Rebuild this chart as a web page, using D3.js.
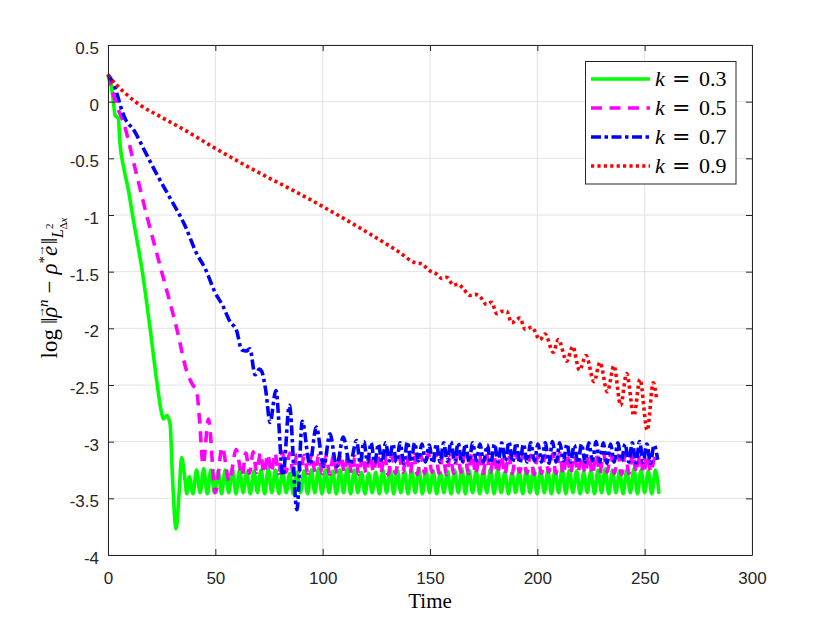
<!DOCTYPE html>
<html>
<head>
<meta charset="utf-8">
<script src="https://cdn.jsdelivr.net/npm/d3@7"></script>
<style>
body{margin:0;background:#fff}
</style>
</head>
<body>
<div></div>
<script>
// values
const kLabels = ["0.3", "0.5", "0.7", "0.9"]
const xTicks = [0, 50, 100, 150, 200, 250, 300]
const yTicks = [0.5, 0, -0.5, -1, -1.5, -2, -2.5, -3, -3.5, -4]

// decay part of each curve, [time, log error]
const head03 = [[0,0.23],[1.7,0.12],[2.5,0],[3.3,-0.12],[4.8,-0.15],[5.6,-0.37],[7.5,-0.6],[9.5,-0.78],[11.8,-1.04],[16,-1.5],[19.6,-2],[22.4,-2.42],
  [25,-2.75],[25.8,-2.8],[27.3,-2.77],[28.9,-2.84],[30.1,-3.34],[31.7,-3.77],[33.2,-3.43],[34.3,-3.14],[35.9,-3.34],[36.7,-3.46]]
const head05 = [[0,0.24],[2,0.1],[4,-0.03],[7.5,-0.2],[12.5,-0.58],[18,-1],[25,-1.5],[32,-2],[36.7,-2.38],[39.5,-2.5],[41.3,-2.55],[42.6,-2.8],
  [44.3,-3.2],[46.8,-2.8],[50,-3.45],[53.2,-3.05],[56.5,-3.35],[59.7,-3.07],[62.5,-3.3]]
const head07 = [[0,0.24],[2,0.18],[4.5,0.05],[6,-0.05],[8,-0.15],[12,-0.25],[17.5,-0.45],[23,-0.65],[28,-0.82],[36,-1.1],[41.3,-1.34],[45.2,-1.47],
  [49.8,-1.68],[53.7,-1.81],[56.8,-1.94],[59.9,-2.02],[62.3,-2.19],[64.5,-2.2],[66.1,-2.18],[68.5,-2.41],[70.5,-2.36],[71.6,-2.38],[73.5,-2.55],
  [75.5,-2.83],[78.2,-2.55],[81.5,-3.3],[84.5,-2.68],[88,-3.6],[90.5,-2.82],[94,-3.2],[97,-2.87],[100.5,-3.22],[103.4,-2.93],[106.5,-3.22],
  [109.6,-2.96],[112.7,-3.2],[115.8,-2.99]]
const head09 = [[0,0.235],[3.3,0.16],[7.1,0.09],[14.9,-0.03],[24.2,-0.13],[36.6,-0.26],[49.8,-0.41],[67.7,-0.6],[89.4,-0.815],[99.5,-0.92],
  [120.5,-1.15],[135,-1.32],[143,-1.42],[146,-1.43],[149.7,-1.49],[153,-1.52],[155.5,-1.56],[157.8,-1.55],[161,-1.62],[163,-1.61],[165.5,-1.65],
  [168.6,-1.71],[171,-1.7],[173.3,-1.72],[176.4,-1.79],[178.7,-1.77],[181.1,-1.87],[183.5,-1.85],[185.7,-1.85],[188,-1.95],[191.9,-1.91],
  [194.3,-2.01],[197.4,-1.99],[201.2,-2.1],[203.6,-2.05],[207.4,-2.21],[209.8,-2.1],[213.7,-2.29],[216.5,-2.16],[219.6,-2.37],[222.7,-2.24],
  [226.4,-2.47],[229.2,-2.3],[232.6,-2.56],[235.7,-2.33],[238.8,-2.68],[241.6,-2.4],[245,-2.77],[247.8,-2.45],[251.2,-2.9],[254,-2.48],[255.6,-2.63]]

// oscillating tails: alternating peaks and troughs, sampled every half period
const tail03Start = 37.9, tail03Step = 1.67
const tail03 = [
  -3.31,-3.46,-3.25,-3.45,-3.24,-3.46,-3.25,-3.45,-3.26,-3.46,-3.25,-3.45,-3.24,-3.46,-3.25,-3.45,-3.27,-3.46,-3.26,-3.45,
  -3.25,-3.46,-3.24,-3.45,-3.25,-3.46,-3.26,-3.45,-3.28,-3.46,-3.27,-3.45,-3.26,-3.46,-3.25,-3.45,-3.24,-3.46,-3.25,-3.45,
  -3.26,-3.46,-3.25,-3.45,-3.24,-3.46,-3.25,-3.45,-3.27,-3.46,-3.28,-3.45,-3.27,-3.46,-3.25,-3.45,-3.24,-3.46,-3.25,-3.45,
  -3.26,-3.46,-3.25,-3.45,-3.24,-3.46,-3.25,-3.45,-3.26,-3.46,-3.27,-3.45,-3.26,-3.46,-3.25,-3.45,-3.24,-3.46,-3.25,-3.45,
  -3.26,-3.46,-3.25,-3.45,-3.24,-3.46,-3.25,-3.45,-3.27,-3.46,-3.28,-3.45,-3.26,-3.46,-3.25,-3.45,-3.24,-3.46,-3.25,-3.45,
  -3.26,-3.46,-3.25,-3.45,-3.24,-3.46,-3.25,-3.45,-3.26,-3.46,-3.27,-3.45,-3.26,-3.46,-3.25,-3.45,-3.24,-3.46,-3.25,-3.45,
  -3.26,-3.46,-3.25,-3.45,-3.24,-3.46,-3.25,-3.45,-3.26,-3.46,-3.25,-3.46]
const tail05Start = 64.2, tail05Step = 1.7
const tail05 = [
  -3.10,-3.28,-3.09,-3.27,-3.10,-3.28,-3.11,-3.27,-3.10,-3.28,-3.09,-3.27,-3.10,-3.28,-3.11,-3.27,-3.12,-3.28,-3.11,-3.27,
  -3.12,-3.28,-3.13,-3.29,-3.12,-3.28,-3.11,-3.27,-3.12,-3.28,-3.13,-3.29,-3.12,-3.28,-3.11,-3.27,-3.10,-3.28,-3.11,-3.29,
  -3.12,-3.28,-3.13,-3.27,-3.12,-3.28,-3.11,-3.29,-3.12,-3.28,-3.10,-3.27,-3.11,-3.28,-3.12,-3.29,-3.13,-3.28,-3.12,-3.27,
  -3.11,-3.28,-3.10,-3.29,-3.11,-3.28,-3.12,-3.27,-3.13,-3.28,-3.12,-3.29,-3.11,-3.28,-3.10,-3.27,-3.11,-3.28,-3.12,-3.29,
  -3.13,-3.28,-3.12,-3.27,-3.11,-3.28,-3.10,-3.29,-3.11,-3.28,-3.12,-3.27,-3.13,-3.28,-3.12,-3.29,-3.11,-3.28,-3.10,-3.27,
  -3.11,-3.28,-3.12,-3.29,-3.11,-3.28,-3.10,-3.27,-3.11,-3.28,-3.12,-3.27,-3.15,-3.22]
const tail07Start = 117.5, tail07Step = 1.69
const tail07 = [
  -3.19,-3.00,-3.18,-3.01,-3.19,-3.02,-3.18,-3.01,-3.17,-3.02,-3.18,-3.01,-3.19,-3.00,-3.18,-3.01,-3.17,-3.02,-3.18,-3.03,
  -3.19,-3.02,-3.18,-3.01,-3.17,-3.00,-3.18,-3.01,-3.19,-3.02,-3.18,-3.01,-3.17,-3.02,-3.18,-3.03,-3.19,-3.02,-3.18,-3.01,
  -3.17,-3.00,-3.18,-3.01,-3.19,-3.02,-3.18,-3.01,-3.17,-3.02,-3.18,-3.01,-3.19,-3.00,-3.18,-3.01,-3.17,-3.02,-3.18,-3.03,
  -3.19,-3.02,-3.18,-3.01,-3.17,-3.00,-3.18,-3.01,-3.19,-3.02,-3.18,-3.01,-3.17,-3.02,-3.18,-3.01,-3.19,-3.00,-3.18,-3.02,
  -3.19,-3.03,-3.16]

function withTail(head, tail, start, step){
    return head.concat(tail.map((v, i) => [start + i*step, v]))
}
const curves = [
    withTail(head03, tail03, tail03Start, tail03Step),
    withTail(head05, tail05, tail05Start, tail05Step),
    withTail(head07, tail07, tail07Start, tail07Step),
    head09
]

// styles
const lineColor = ["#00ff00", "#ff00ff", "#0000ff", "#ff0000"]
const lineDash = [null, "11,7.5", "10,3.5,3.5,3.5", "3.2,3.2"]
const lineWidth = 3.6
const axisColor = "#262626"
const tickFont = "'Liberation Sans', Arial, sans-serif"
const mathFont = "'Liberation Serif', 'Times New Roman', serif"

function translate(x,y){return `translate(${x}, ${y})`}

const svgWidth = 830, svgHeight = 623
const plot = {left:108, right:752, top:45, bottom:555}

const svg = d3.select("div").append("svg").attr("width", svgWidth).attr("height", svgHeight)

const xScale = d3.scaleLinear().domain([0,300]).range([plot.left, plot.right])
const yScale = d3.scaleLinear().domain([-4,0.5]).range([plot.bottom, plot.top])

// grid
const grid = svg.append("g").attr("id","grid").attr("stroke","#e2e2e2").attr("stroke-width",1)
grid.selectAll("line.gx").data(xTicks).join("line").attr("class","gx")
    .attr("x1",d=>xScale(d)).attr("x2",d=>xScale(d)).attr("y1",plot.top).attr("y2",plot.bottom)
grid.selectAll("line.gy").data(yTicks).join("line").attr("class","gy")
    .attr("y1",d=>yScale(d)).attr("y2",d=>yScale(d)).attr("x1",plot.left).attr("x2",plot.right)

// curves, k=0.3 first so k=0.9 sits on top
const line = d3.line().x(d=>xScale(d[0])).y(d=>yScale(d[1])).curve(d3.curveMonotoneX)
const curveArea = svg.append("g").attr("id","curves")
curveArea.selectAll("path").data(curves).join("path")
    .attr("d", line)
    .attr("fill","none")
    .attr("stroke",(d,i)=>lineColor[i])
    .attr("stroke-width",lineWidth)
    .attr("stroke-linejoin","round")
    .attr("stroke-dasharray",(d,i)=>lineDash[i])

// axes, ticks inside on all four sides
const fmt = d => String(d)
function styleAxis(g){
    g.select(".domain").attr("stroke",axisColor)
    g.selectAll(".tick line").attr("stroke",axisColor)
    g.selectAll(".tick text").attr("fill",axisColor).attr("font-family",tickFont).attr("font-size",17)
}
svg.append("g").attr("transform",translate(0,plot.bottom))
    .call(d3.axisBottom(xScale).tickValues(xTicks).tickFormat(fmt).tickSizeInner(-6).tickSizeOuter(0).tickPadding(17))
    .call(styleAxis)
svg.append("g").attr("transform",translate(0,plot.top))
    .call(d3.axisTop(xScale).tickValues(xTicks).tickFormat("").tickSizeInner(-6).tickSizeOuter(0))
    .call(styleAxis)
const yAxisG = svg.append("g").attr("transform",translate(plot.left,0))
    .call(d3.axisLeft(yScale).tickValues(yTicks).tickFormat(fmt).tickSizeInner(-6).tickSizeOuter(0).tickPadding(9))
    .call(styleAxis)
yAxisG.selectAll(".tick text").attr("dy","0.5em")
svg.append("g").attr("transform",translate(plot.right,0))
    .call(d3.axisRight(yScale).tickValues(yTicks).tickFormat("").tickSizeInner(-6).tickSizeOuter(0))
    .call(styleAxis)
svg.selectAll(".domain").attr("stroke-width",1)

// x label
svg.append("text").attr("x",(plot.left+plot.right)/2).attr("y",608)
    .attr("text-anchor","middle").attr("font-family",mathFont).attr("font-size",21).attr("fill","#000")
    .text("Time")

// y label: log ||rho_vec^n - rho^* e_vec||_{L^2_{Delta x}}
const yl = svg.append("text").attr("transform",translate(57,288)+" rotate(-90)")
    .attr("text-anchor","middle").attr("font-family",mathFont).attr("font-size",23).attr("fill","#000")
yl.append("tspan").text("log")
yl.append("tspan").attr("dx",5).text("\u2016")
yl.append("tspan").attr("font-style","italic").text("\u03c1")
yl.append("tspan").attr("font-size",12).attr("dx",-11.5).attr("dy",-13).text("\u2192")
yl.append("tspan").attr("font-style","italic").attr("font-size",15).attr("dx",-1).attr("dy",4).text("n")
yl.append("tspan").attr("dx",6).attr("dy",9).text("\u2212")
yl.append("tspan").attr("dx",6).attr("font-style","italic").text("\u03c1")
yl.append("tspan").attr("font-size",15).attr("dy",-8).text("*")
yl.append("tspan").attr("font-style","italic").attr("dy",8).text("e")
yl.append("tspan").attr("font-size",12).attr("dx",-10.5).attr("dy",-13).text("\u2192")
yl.append("tspan").attr("dx",0).attr("dy",13).text("\u2016")
yl.append("tspan").attr("font-style","italic").attr("font-size",16).attr("dy",6).text("L")
yl.append("tspan").attr("font-size",11).attr("dy",-10).text("2")
yl.append("tspan").attr("font-size",11).attr("dx",-6).attr("dy",14).text("\u0394")
yl.append("tspan").attr("font-size",11).attr("font-style","italic").text("x")

// legend
const legend = svg.append("g").attr("id","legend")
legend.append("rect").attr("x",585.5).attr("y",61.5).attr("width",150.5).attr("height",122.5)
    .attr("fill","#fff").attr("stroke",axisColor).attr("stroke-width",1)
const entry = legend.selectAll("g.entry").data(kLabels).join("g").attr("class","entry")
    .attr("transform",(d,i)=>translate(0,79+i*29))
entry.append("line").attr("x1",591).attr("x2",650).attr("y1",0).attr("y2",0)
    .attr("stroke",(d,i)=>lineColor[i]).attr("stroke-width",lineWidth)
    .attr("stroke-dasharray",(d,i)=>lineDash[i])
const et = entry.append("text").attr("y",6.7)
    .attr("font-family",mathFont).attr("font-size",22).attr("fill","#000")
et.append("tspan").attr("x",655).attr("font-style","italic").text("k")
et.append("tspan").attr("x",672).attr("font-family","'DejaVu Serif', serif").text("=")
et.append("tspan").attr("x",699).text(d=>d)
</script>
</body>
</html>
